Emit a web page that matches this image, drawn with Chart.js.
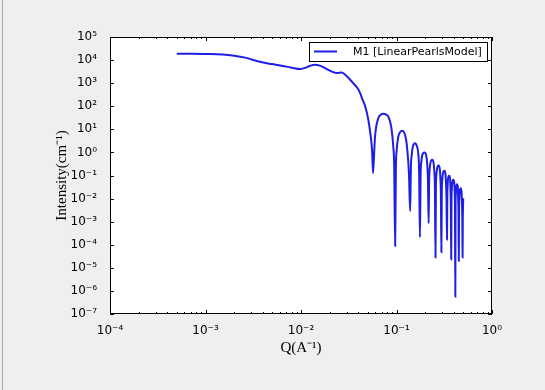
<!DOCTYPE html>
<html><head><meta charset="utf-8">
<script src="https://cdn.jsdelivr.net/npm/chart.js@4/dist/chart.umd.min.js"></script>
<style>
html,body{margin:0;padding:0;background:#efefef;}
#wrap{position:relative;width:545px;height:390px;background:#efefef;}
#edge{position:absolute;left:2px;top:0;width:1px;height:390px;background:#a8a8a8;}
canvas{display:block;}
</style></head><body>
<div id="wrap"><canvas id="c" width="545" height="390"></canvas><div id="edge"></div></div>
<script>
// Q values (A^-1)
const qValues = [
  5.0e-4, 7.0e-4, 1.0e-3, 1.5e-3, 2.0e-3, 2.6e-3, 3.7e-3, 5.0e-3, 6.5e-3, 8.0e-3,
  9.8e-3, 1.1e-2, 1.25e-2, 1.4e-2, 1.6e-2, 1.86e-2, 2.1e-2, 2.37e-2, 2.67e-2, 2.9e-2,
  3.26e-2, 3.6e-2, 3.9e-2, 4.15e-2, 4.4e-2, 4.7e-2, 5.07e-2, 5.37e-2, 5.55e-2, 5.68e-2,
  5.85e-2, 5.96e-2, 6.46e-2, 6.8e-2, 7.3e-2, 7.8e-2, 8.2e-2, 8.6e-2, 8.9e-2, 9.25e-2, 9.45e-2, 9.68e-2,
  0.0985, 0.1005, 0.1045, 0.109, 0.115, 0.1227, 0.1265, 0.1297, 0.135, 0.139,
  0.1416, 0.144, 0.148, 0.156, 0.163, 0.169, 0.1725, 0.176,
  0.179, 0.182, 0.186, 0.196, 0.204, 0.210, 0.2135, 0.217,
  0.2197, 0.2228, 0.227, 0.236, 0.244, 0.249, 0.2525, 0.256,
  0.2587, 0.262, 0.266, 0.275, 0.283, 0.288, 0.2915, 0.295,
  0.298, 0.3015, 0.306, 0.316, 0.325, 0.330, 0.334, 0.338,
  0.3405, 0.3435, 0.347, 0.356, 0.3635, 0.367, 0.3705, 0.374,
  0.3767, 0.380, 0.384, 0.394, 0.402, 0.407, 0.4095, 0.413,
  0.4155, 0.4185, 0.422, 0.431, 0.4385, 0.442, 0.4455, 0.449,
  0.452, 0.4555, 0.460, 0.470, 0.479, 0.484, 0.4885, 0.492,
  0.4945, 0.4975, 0.500
];
// Intensity values (cm^-1)
const intensityValues = [
  19000, 18800, 18400, 17500, 15500, 12800, 8400, 6700, 5500, 4700,
  4100, 4600, 5700, 6300, 5600, 4100, 3200, 2750, 2900, 2300,
  1450, 900, 620, 380, 200, 100, 26, 4.9, 1.2, 0.126,
  1.2, 4.9, 31, 42, 47, 43, 36, 20, 9.5, 1.8, 0.3, 8.9e-5,
  0.2, 1.3, 4.9, 7.5, 8.6, 5.8, 3.2, 1.3, 0.12, 2.9e-3,
  0.25, 0.7, 1.7, 2.5, 1.9, 0.9, 0.15, 2.1e-4,
  0.12, 0.4, 0.75, 1.0, 0.78, 0.3, 0.06, 8.5e-4,
  0.06, 0.2, 0.36, 0.48, 0.37, 0.14, 0.03, 2.8e-5,
  0.034, 0.11, 0.2, 0.27, 0.21, 0.08, 0.016, 4.7e-5,
  0.02, 0.065, 0.12, 0.16, 0.125, 0.045, 0.009, 1.7e-4,
  0.012, 0.04, 0.075, 0.097, 0.075, 0.028, 0.005, 2.3e-5,
  0.008, 0.027, 0.05, 0.065, 0.05, 0.018, 0.004, 5.6e-7,
  0.005, 0.017, 0.032, 0.042, 0.032, 0.012, 0.0025, 2.0e-5,
  0.0035, 0.011, 0.021, 0.028, 0.021, 0.008, 0.0015, 2.8e-5,
  0.0012, 0.005, 0.0104
];
const seriesName = 'M1 [LinearPearlsModel]';
const xTickValues = [1e-4, 1e-3, 1e-2, 1e-1, 1];
const xTickLabels = ['10⁻⁴', '10⁻³', '10⁻²', '10⁻¹', '10⁰'];
const yTickValues = [1e-7, 1e-6, 1e-5, 1e-4, 1e-3, 1e-2, 1e-1, 1, 1e1, 1e2, 1e3, 1e4, 1e5];
const yTickLabels = ['10⁻⁷', '10⁻⁶', '10⁻⁵', '10⁻⁴', '10⁻³', '10⁻²', '10⁻¹', '10⁰', '10¹', '10²', '10³', '10⁴', '10⁵'];
const xTitle = 'Q(A⁻¹)';
const yTitle = 'Intensity(cm⁻¹)';

const lineColor = '#1e1ee6';

function labelFor(vals, labels, v) {
  for (let i = 0; i < vals.length; i++) {
    if (Math.abs(Math.log10(vals[i]) - Math.log10(v)) < 1e-6) return labels[i];
  }
  return '';
}

const framePlugin = {
  id: 'frame',
  beforeDraw(chart) {
    const a = chart.chartArea, c = chart.ctx;
    c.save();
    c.fillStyle = '#ffffff';
    c.fillRect(a.left, a.top, a.right - a.left, a.bottom - a.top);
    c.restore();
  },
  afterDraw(chart) {
    const a = chart.chartArea, c = chart.ctx;
    const xs = chart.scales.x, ys = chart.scales.y;
    c.save();
    c.strokeStyle = '#000';
    c.lineWidth = 1;
    c.strokeRect(a.left + 0.5, a.top + 0.5, a.right - a.left - 1, a.bottom - a.top - 1);
    c.beginPath();
    xTickValues.forEach(v => {
      const p = Math.round(xs.getPixelForValue(v)) + 0.5;
      c.moveTo(p, a.bottom); c.lineTo(p, a.bottom - 4);
      c.moveTo(p, a.top); c.lineTo(p, a.top + 4);
    });
    for (let k = 0; k < xTickValues.length - 1; k++) {
      for (let m = 2; m <= 9; m++) {
        const p = Math.round(xs.getPixelForValue(xTickValues[k] * m)) + 0.5;
        c.moveTo(p, a.bottom); c.lineTo(p, a.bottom - 2);
        c.moveTo(p, a.top); c.lineTo(p, a.top + 2);
      }
    }
    yTickValues.forEach(v => {
      const p = Math.round(ys.getPixelForValue(v)) + 0.5;
      c.moveTo(a.left, p); c.lineTo(a.left + 4, p);
      c.moveTo(a.right, p); c.lineTo(a.right - 4, p);
    });
    c.stroke();
    // legend
    const lx = 309.5, ly = 42.5, lw = 178, lh = 19;
    c.fillStyle = '#fff';
    c.fillRect(lx, ly, lw, lh);
    c.strokeStyle = '#000';
    c.strokeRect(lx, ly, lw, lh);
    c.strokeStyle = lineColor;
    c.lineWidth = 2;
    c.beginPath();
    c.moveTo(314, 51.5); c.lineTo(337, 51.5);
    c.stroke();
    c.fillStyle = '#000';
    c.font = '11px "DejaVu Sans"';
    c.textBaseline = 'middle';
    c.textAlign = 'left';
    c.fillText(chart.data.datasets[0].label, 353, 52);
    c.restore();
  }
};

new Chart(document.getElementById('c'), {
  type: 'scatter',
  data: {
    datasets: [{
      label: seriesName,
      data: qValues.map((q, i) => ({ x: q, y: intensityValues[i] })),
      showLine: true,
      borderColor: lineColor,
      backgroundColor: lineColor,
      borderWidth: 2,
      pointRadius: 0,
      fill: false,
      cubicInterpolationMode: 'monotone'
    }]
  },
  options: {
    responsive: false,
    animation: false,
    devicePixelRatio: 1,
    layout: { padding: { left: 0, right: 53, top: 37, bottom: 0 } },
    plugins: { legend: { display: false }, tooltip: { enabled: false } },
    scales: {
      x: {
        type: 'logarithmic', position: 'bottom', min: 1e-4, max: 1,
        grid: { display: false }, border: { display: false },
        afterBuildTicks: s => { s.ticks = xTickValues.map(v => ({ value: v })); },
        afterFit: s => { s.height = 76; },
        ticks: {
          autoSkip: false, maxRotation: 0, padding: 2, color: '#000',
          font: { family: 'DejaVu Sans', size: 12 },
          callback: v => labelFor(xTickValues, xTickLabels, v)
        },
        title: { display: true, text: xTitle, color: '#000',
          font: { family: 'Liberation Serif', size: 15 }, padding: { top: 0, bottom: 33 } }
      },
      y: {
        type: 'logarithmic', position: 'left', min: 1e-7, max: 1e5,
        grid: { display: false }, border: { display: false },
        afterBuildTicks: s => { s.ticks = yTickValues.map(v => ({ value: v })); },
        afterFit: s => { s.width = 110; },
        ticks: {
          autoSkip: false, padding: 5, color: '#000',
          font: { family: 'DejaVu Sans', size: 12 },
          callback: v => labelFor(yTickValues, yTickLabels, v)
        },
        title: { display: true, text: yTitle, color: '#000',
          font: { family: 'Liberation Serif', size: 15 }, padding: { top: 53, bottom: 0 } }
      }
    }
  },
  plugins: [framePlugin]
});
</script>
</body></html>
